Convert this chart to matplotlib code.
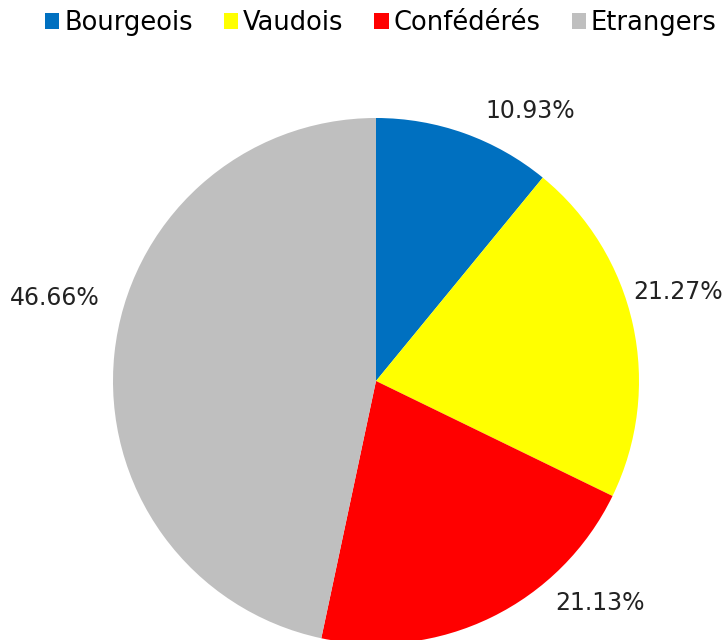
import matplotlib
matplotlib.use('Agg')
import matplotlib.pyplot as plt
from matplotlib.patches import Patch

categories = ["Bourgeois", "Vaudois", "Confédérés", "Etrangers"]
shares = [10.93, 21.27, 21.13, 46.66]
colors = ["#0070C0", "#FFFF00", "#FF0000", "#BFBFBF"]
# label spots (in pie radius units), as Excel placed them
label_xy = [(0.586, 1.027), (1.15, 0.338), (0.852, -0.844), (-1.221, 0.316)]

plt.rcParams['font.family'] = ['DejaVu Sans']

fig = plt.figure(figsize=(7.27, 6.40), dpi=100)
ax = fig.add_axes([113/727, -4/640, 526/727, 526/640])
ax.pie(shares, colors=colors, startangle=90, counterclock=False, radius=1,
       wedgeprops=dict(linewidth=0))
ax.set_xlim(-1, 1)
ax.set_ylim(-1, 1)
ax.set_aspect('equal')
ax.axis('off')

for v, (x, y) in zip(shares, label_xy):
    ax.text(x, y, "%.2f%%" % v, ha='center', va='center', fontsize=17,
            color='#222222', clip_on=False)

handles = [Patch(facecolor=c, edgecolor='none') for c in colors]
fig.legend(handles, categories, loc='upper center', bbox_to_anchor=(0.524, 1.02),
           ncol=4, frameon=False, fontsize=18.5, handlelength=0.55, handleheight=0.55,
           handletextpad=0.2, columnspacing=1.2)

fig.savefig("out.png", dpi=100)
